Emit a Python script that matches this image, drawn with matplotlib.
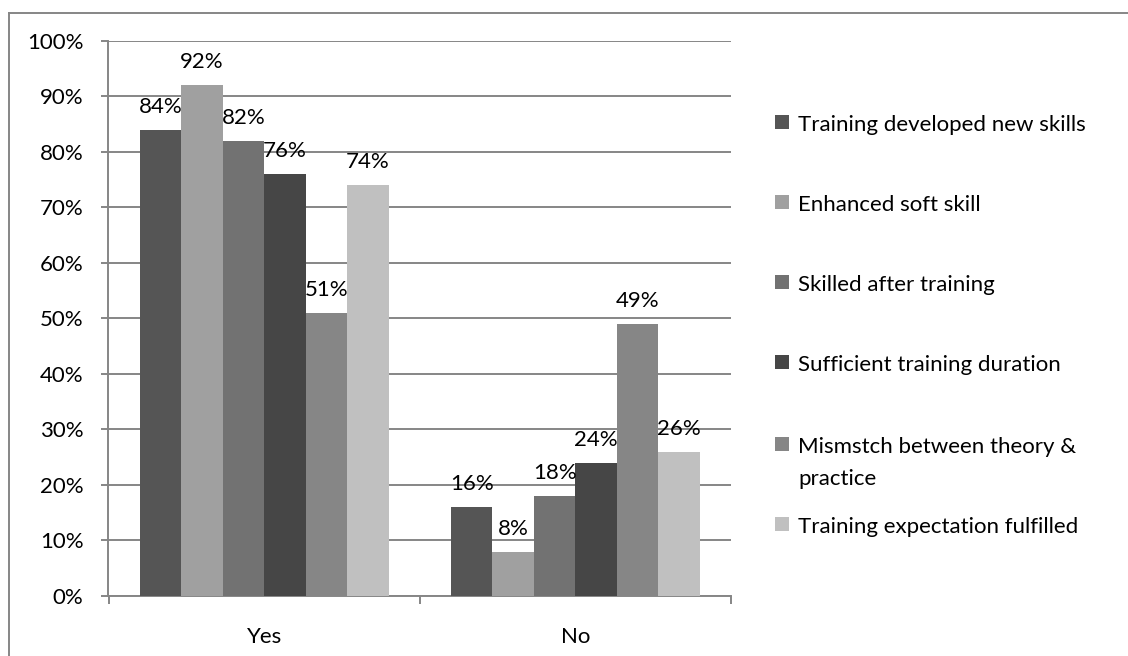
import matplotlib
matplotlib.use("Agg")
import matplotlib.pyplot as plt
from matplotlib.patches import Rectangle
from matplotlib.lines import Line2D
from matplotlib.ticker import MultipleLocator, PercentFormatter
import numpy as np

plt.rcParams['font.family'] = ['Lato', 'DejaVu Sans']

categories = ["Yes", "No"]
series_names = [
    "Training developed new skills",
    "Enhanced soft skill",
    "Skilled after training",
    "Sufficient training duration",
    "Mismstch between theory &\npractice",
    "Training expectation fulfilled",
]
series_values = [
    [84, 16],
    [92, 8],
    [82, 18],
    [76, 24],
    [51, 49],
    [74, 26],
]
series_colors = ["#555555", "#a0a0a0", "#727272", "#464646", "#868686", "#c0c0c0"]

W, H = 1128, 656
fig = plt.figure(figsize=(W / 100, H / 100), dpi=100)
fig.patch.set_facecolor("white")

ax = fig.add_axes([108.5 / W, (H - 596) / H, (731 - 108.5) / W, (596 - 40.7) / H])

grey = "#868686"
fs = 16
n = len(series_names)
group_w = 0.8
bar_w = group_w / n
x = np.arange(len(categories))

for i, (name, vals, col) in enumerate(zip(series_names, series_values, series_colors)):
    pos = x - group_w / 2 + bar_w * (i + 0.5)
    bars = ax.bar(pos, vals, width=bar_w, color=col, edgecolor="none", zorder=3)
    for b, v in zip(bars, vals):
        ax.annotate(f"{v}%", (b.get_x() + b.get_width() / 2, v),
                    xytext=(0, 12), textcoords="offset points",
                    ha="center", va="baseline", fontsize=fs, color="black", zorder=4)

ax.set_xlim(-0.5, len(categories) - 0.5)
ax.set_ylim(0, 100)
ax.yaxis.set_major_locator(MultipleLocator(10))
ax.yaxis.set_major_formatter(PercentFormatter(decimals=0))
ax.grid(axis="y", color=grey, linewidth=1.4, zorder=0)
ax.set_axisbelow(True)

for side in ("top", "right"):
    ax.spines[side].set_visible(False)
for side in ("left", "bottom"):
    ax.spines[side].set_color(grey)
    ax.spines[side].set_linewidth(1.4)

# Category labels sit between boundary ticks
ax.set_xticks(np.arange(len(categories) + 1) - 0.5)
ax.set_xticklabels([])
ax.set_xticks(x, minor=True)
ax.set_xticklabels(categories, minor=True, fontsize=fs)
ax.tick_params(axis="x", which="major", length=6, width=1.4, color=grey, direction="out")
ax.tick_params(axis="x", which="minor", length=0, pad=22)
ax.tick_params(axis="y", length=5, width=1.4, color=grey, direction="out", pad=13, labelsize=fs)

# Legend on the right: one square per series, text lines drawn at fixed baselines
legend_baselines = [131, 211, 291, 371, 453, 533]
line_step = 32
sq = 14
for name, col, yb in zip(series_names, series_colors, legend_baselines):
    fig.patches.append(Rectangle((775 / W, (H - yb + 2) / H), sq / W, sq / H,
                                 transform=fig.transFigure, facecolor=col,
                                 edgecolor="none"))
    for k, line in enumerate(name.split("\n")):
        fig.text(798 / W, (H - yb - k * line_step) / H, line, fontsize=fs,
                 ha="left", va="baseline")

# Outer frame
fig.add_artist(Line2D([9 / W, 1.0], [(H - 12.5) / H, (H - 12.5) / H],
                      transform=fig.transFigure, color=grey, linewidth=1.4))
fig.add_artist(Line2D([9 / W, 9 / W], [0, (H - 12.5) / H],
                      transform=fig.transFigure, color=grey, linewidth=1.4))

fig.savefig("out.png", dpi=100)
